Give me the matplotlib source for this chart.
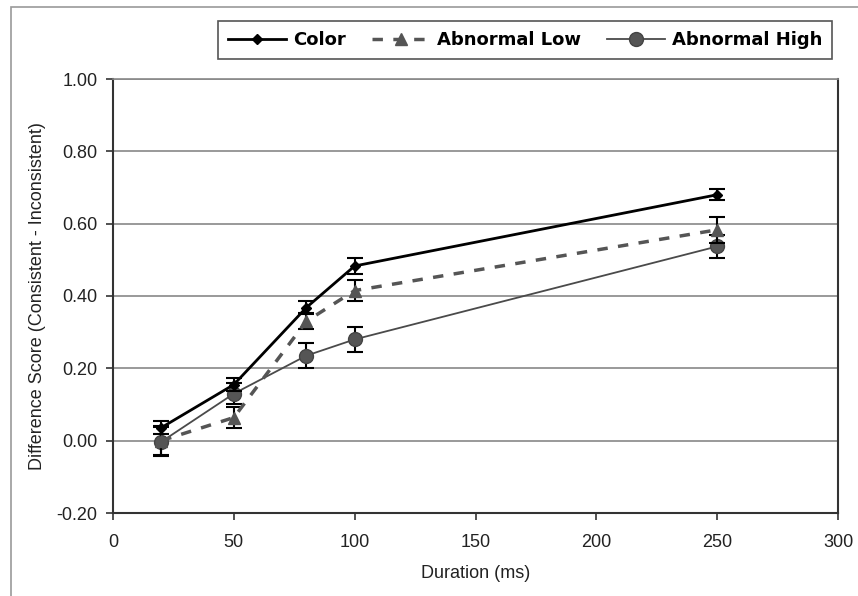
import matplotlib
matplotlib.use("Agg")
import matplotlib.pyplot as plt
from matplotlib.patches import Rectangle
from matplotlib.lines import Line2D

durations = [20, 50, 80, 100, 250]
color_vals = [0.036, 0.155, 0.368, 0.483, 0.680]
color_err = [0.018, 0.017, 0.018, 0.022, 0.015]
low_vals = [0.000, 0.064, 0.330, 0.415, 0.583]
low_err = [0.040, 0.028, 0.022, 0.028, 0.036]
high_vals = [-0.003, 0.130, 0.235, 0.280, 0.537]
high_err = [0.040, 0.030, 0.035, 0.034, 0.032]

series_names = ["Color", "Abnormal Low", "Abnormal High"]
x_ticks = [0, 50, 100, 150, 200, 250, 300]
y_ticks = [-0.20, 0.00, 0.20, 0.40, 0.60, 0.80, 1.00]

plt.rcParams['font.family'] = ['Liberation Sans', 'DejaVu Sans']

fig = plt.figure(figsize=(8.58, 5.96), dpi=100)
fig.patches.append(Rectangle((11/858, -0.01), 1.0, 1 - 7/596 + 0.01, transform=fig.transFigure,
                             fill=False, edgecolor='#999999', linewidth=1.2))

ax = fig.add_axes([113/858, 1 - 513/596, (838 - 113)/858, (513 - 79)/596])

high_style = dict(color='#4a4a4a', lw=1.3, marker='o', ms=10, mfc='#555555', mec='#444444')
low_style = dict(color='#555555', lw=2.5, ls=(0, (3, 3)), marker='^', ms=8, mfc='#555555', mec='#555555')
color_style = dict(color='black', lw=2.0, marker='D', ms=5, mfc='black', mec='black')
err_kw = dict(ecolor='black', elinewidth=1.5, capsize=6, capthick=1.5)

ax.errorbar(durations, high_vals, yerr=high_err, zorder=3, **high_style, **err_kw)
ax.errorbar(durations, low_vals, yerr=low_err, zorder=4, **low_style, **err_kw)
ax.errorbar(durations, color_vals, yerr=color_err, zorder=5, **color_style, **err_kw)

ax.set_xlim(0, 300)
ax.set_ylim(-0.20, 1.00)
ax.set_xticks(x_ticks)
ax.set_yticks(y_ticks)
ax.set_yticklabels([f"{v:.2f}" for v in y_ticks])
ax.yaxis.grid(True, color='#888888', lw=1.2)
ax.set_axisbelow(True)
for s in ax.spines.values():
    s.set_color('#333333')
    s.set_linewidth(1.5)
ax.spines['top'].set_color('#888888')
ax.spines['top'].set_linewidth(1.2)
ax.tick_params(direction='out', length=5, width=1.2, colors='#333333', labelsize=13, labelcolor='#222222')
ax.tick_params(axis='x', pad=10)
ax.tick_params(axis='y', pad=6)
ax.set_xlabel("Duration (ms)", fontsize=13, color='#222222', labelpad=10)
ax.set_ylabel("Difference Score (Consistent - Inconsistent)", fontsize=13, color='#222222', labelpad=8)

handles = [Line2D([], [], **color_style), Line2D([], [], **low_style), Line2D([], [], **high_style)]
leg = fig.legend(handles, series_names,
                 loc='upper left', bbox_to_anchor=(218/858, 1 - 21/596), ncol=3,
                 frameon=True, fancybox=False, edgecolor='#555555', framealpha=1,
                 prop={'family': 'DejaVu Sans', 'weight': 'bold', 'size': 13},
                 handlelength=3.2, columnspacing=1.45, borderpad=0.55, handletextpad=0.4,
                 borderaxespad=0)
leg.get_frame().set_linewidth(1.2)

fig.savefig("out.png", dpi=100)
